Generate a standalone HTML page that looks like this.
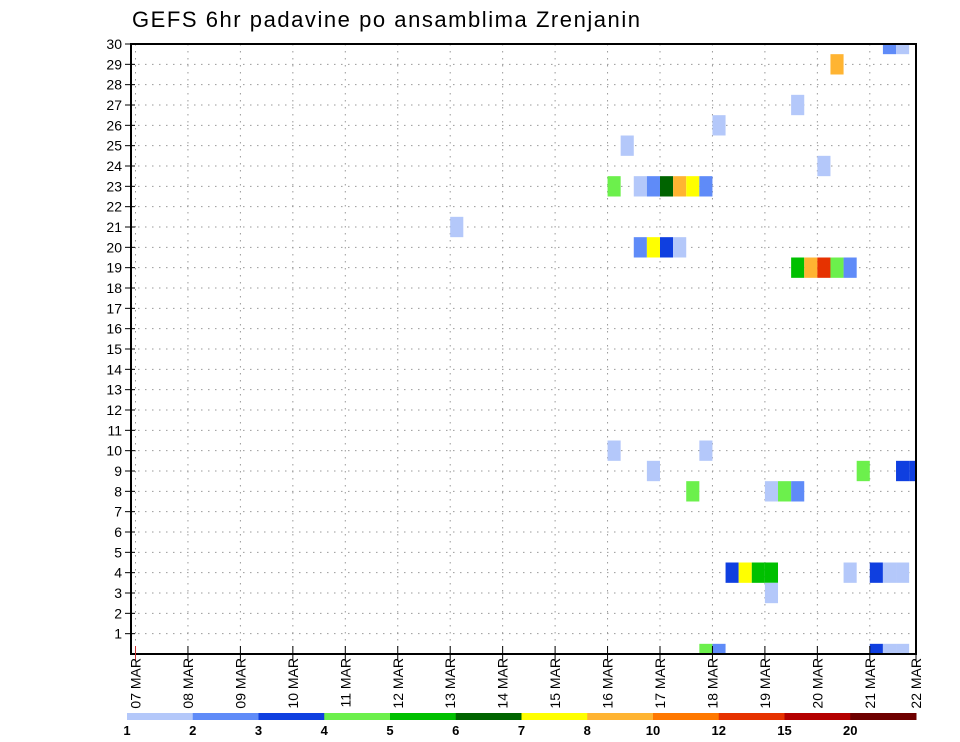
<!DOCTYPE html>
<html><head><meta charset="utf-8">
<style>
html,body{margin:0;padding:0;background:#fff;}
svg{display:block;font-family:"Liberation Sans",sans-serif;}
</style></head>
<body>
<svg id="chart" width="960" height="742" viewBox="0 0 960 742" xmlns="http://www.w3.org/2000/svg">
<text x="132" y="27" font-size="22" fill="#000" textLength="508" lengthAdjust="spacing">GEFS 6hr padavine po ansamblima Zrenjanin</text>
<g id="grid"></g>
<g id="cells"></g>
<rect x="131" y="44" width="785" height="610" fill="none" stroke="#000" stroke-width="2"/>
<g id="yaxis"></g>
<g id="xaxis"></g>
<g id="legend"></g>
</svg>
<script>
const dayLabels = ["07","08","09","10","11","12","13","14","15","16","17","18","19","20","21","22"];
const yTicks = [1,2,3,4,5,6,7,8,9,10,11,12,13,14,15,16,17,18,19,20,21,22,23,24,25,26,27,28,29,30];
const legendLabels = ["1","2","3","4","5","6","7","8","10","12","15","20"];
const legendColors = ["#b4c8fa","#5f8bf8","#0f3fe0","#6cf04c","#00c000","#006400","#ffff00","#ffb432","#ff7800","#e63200","#b40000","#6e0000"];
// cells: member (row), 6-hour step index from 07 MAR 00Z, color class index
const cellMember = [23,23,23,23,23,23,23, 20,20,20,20, 19,19,19,19,19, 21, 25,26,27,24,29,30,30, 10,10,9,9,9,9, 8,8,8,8, 4,4,4,4,3,4,4,4,4, 0,0,0,0,0];
const cellStep   = [36,38,39,40,41,42,43, 38,39,40,41, 50,51,52,53,54, 24, 37,44,50,52,53,57,58, 36,43,39,55,58,59, 42,48,49,50, 45,46,47,48,48,54,56,57,58, 43,44,56,57,58];
const cellClass  = [3,0,1,5,7,6,1, 1,6,2,0, 4,7,9,3,1, 0, 0,0,0,0,7,1,0, 0,0,0,3,2,2, 3,0,3,1, 2,6,4,4,0,0,2,0,0, 3,1,2,0,0];

const NS="http://www.w3.org/2000/svg";
const L=131,R=916,T=44,B=654;
const x0=135.5, dayW=52.45;
function xs(step){return x0+step*dayW/4;}
function ys(v){return B-v*(B-T)/30;}
function mk(tag,attrs,parent){const e=document.createElementNS(NS,tag);for(const k in attrs)e.setAttribute(k,attrs[k]);parent.appendChild(e);return e;}

const grid=document.getElementById('grid');
yTicks.forEach((v,i)=>{
  if(v===30) return;
  const l=mk('line',{x1:L,x2:R,y1:ys(v),y2:ys(v),stroke:'#999','stroke-width':1,'stroke-dasharray':'1.5,5.5'},grid);
  
  
});
dayLabels.forEach((d,i)=>{
  const x=xs(i*4); if(x>=R-2) return;
  const l=mk('line',{x1:x,x2:x,y1:T,y2:B,stroke:'#999','stroke-width':1,'stroke-dasharray':'1.5,5.5'},grid);
  
  
});

const cells=document.getElementById('cells');
const rh=(B-T)/30;
cellMember.forEach((m,i)=>{
  let x1=xs(cellStep[i]), x2=xs(cellStep[i]+1);
  x2=Math.min(x2,R);
  let y1=ys(m)-rh/2, y2=ys(m)+rh/2;
  y1=Math.max(y1,T); y2=Math.min(y2,B);
  const r=mk('rect',{x:x1,y:y1,width:x2-x1,height:y2-y1,fill:legendColors[cellClass[i]]},cells);
  
  
});

const ya=document.getElementById('yaxis');
yTicks.forEach(v=>{
  const y=ys(v);
  const t=mk('line',{x1:L-6,x2:L+4,y1:y,y2:y,stroke:'#000','stroke-width':1},ya);
  
  
  const tx=mk('text',{x:L-9,y:y+5,'text-anchor':'end','font-size':14,fill:'#000'},ya);
  tx.textContent=v;
  
  
});

const xa=document.getElementById('xaxis');
dayLabels.forEach((d,i)=>{
  let x=xs(i*4); if(x>R) x=R;
  const t=mk('line',{x1:x,x2:x,y1:B-8,y2:B+6,stroke:i===0?'#c33':'#000','stroke-width':1},xa);
  
  
  const tx=mk('text',{x:0,y:0,'font-size':14,fill:'#000','text-anchor':'end',transform:`translate(${x+5},${B+4}) rotate(-90)`},xa);
  tx.textContent=d+" MAR";
  
  
});

const lg=document.getElementById('legend');
const lx0=127,lx1=916,segW=(lx1-lx0)/legendColors.length;
legendColors.forEach((c,i)=>{
  const r=mk('rect',{x:lx0+i*segW,y:713,width:segW+0.5,height:7,fill:c},lg);
  
  
  const tx=mk('text',{x:lx0+i*segW,y:735,'text-anchor':'middle','font-size':13,'font-weight':'bold',fill:'#000'},lg);
  tx.textContent=legendLabels[i];
  
  
});
</script>
</body></html>
